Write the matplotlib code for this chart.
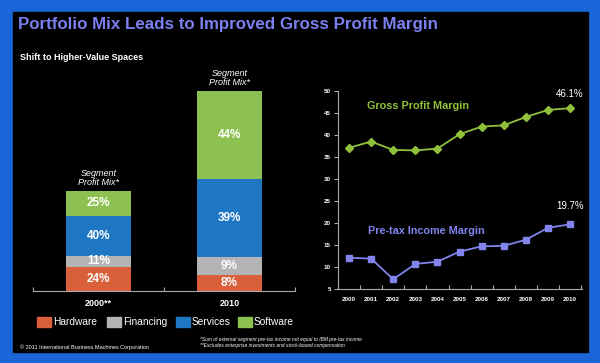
import matplotlib.pyplot as plt
from matplotlib.patches import Rectangle

# Data
periods = ['2000**', '2010']
profit_index = [100, 200]  # relative segment profit size
segments = ['Hardware', 'Financing', 'Services', 'Software']
mix_2000 = [24, 11, 40, 25]
mix_2010 = [8, 9, 39, 44]
seg_colors = ['#d9603b', '#b4b4b4', '#1f77c4', '#8cc152']

years = list(range(2000, 2011))
gross_margin = [37.1, 38.5, 36.6, 36.5, 36.9, 40.2, 41.9, 42.2, 44.1, 45.7, 46.1]
pretax_margin = [12.1, 11.9, 7.2, 10.7, 11.2, 13.5, 14.7, 14.8, 16.2, 18.9, 19.7]

W, H = 600, 363
plt.rcParams['font.family'] = ['Liberation Sans', 'DejaVu Sans']

fig = plt.figure(figsize=(6, 3.63), dpi=100)
fig.patch.set_facecolor('#1a66d9')


def box(x0, y0, x1, y1):
    # pixel box (top-left origin) -> figure fraction rect
    return [x0 / W, 1 - y1 / H, (x1 - x0) / W, (y1 - y0) / H]


# black panel
fig.patches.append(Rectangle((13 / W, 1 - 352 / H), 575 / W, 340 / H,
                             transform=fig.transFigure, color='black', zorder=-10))

fig.text(18 / W, 1 - 24 / H, 'Portfolio Mix Leads to Improved Gross Profit Margin',
         color='#7b80f0', fontsize=12.2, fontweight='bold', va='center')
fig.text(20 / W, 1 - 57 / H, 'Shift to Higher-Value Spaces', color='white',
         fontsize=6.5, fontweight='bold', va='center')

# stacked bars
ax = fig.add_axes(box(33, 60, 295, 291))
ax.set_facecolor('none')
ax.set_xlim(-0.5, 1.5)
ax.set_ylim(0, 231)
for i, mix in enumerate([mix_2000, mix_2010]):
    bottom = 0
    scale = profit_index[i] / 100
    for pct, col in zip(mix, seg_colors):
        h = pct * scale
        ax.bar(i, h, bottom=bottom, width=0.5, color=col, linewidth=0)
        ax.text(i, bottom + h / 2, f'{pct}%', color='white', fontsize=8.5,
                fontweight='bold', ha='center', va='center')
        bottom += h
    ax.text(i, bottom + 4, 'Segment\nProfit Mix*', color='white', fontsize=6.5,
            style='italic', ha='center', va='bottom', linespacing=1.0)
for s in ['top', 'right', 'left']:
    ax.spines[s].set_visible(False)
ax.spines['bottom'].set_color('#aaaaaa')
ax.set_yticks([])
ax.set_xticks([-0.5, 0.5, 1.5])
ax.set_xticklabels([])
ax.tick_params(axis='x', colors='#aaaaaa', length=3, direction='in')
ax.set_xticks([0, 1], minor=True)
ax.set_xticklabels(periods, minor=True)
ax.tick_params(axis='x', which='minor', length=0, labelcolor='white',
               labelsize=6.5, pad=6)
for lab in ax.get_xticklabels(minor=True):
    lab.set_fontweight('bold')

# legend
leg_x = [37, 107, 176, 238]
for x, name, col in zip(leg_x, segments, seg_colors):
    fig.patches.append(Rectangle((x / W, 1 - 327 / H), 14 / W, 10 / H,
                                 transform=fig.transFigure, color=col))
    fig.text((x + 16) / W, 1 - 322 / H, name, color='white', fontsize=7.3,
             va='center')

# line chart
ax2 = fig.add_axes(box(338, 91, 582, 289))
ax2.set_facecolor('none')
ax2.plot(years, gross_margin, color='#8fc23a', lw=1.3, marker='D', ms=4)
ax2.plot(years, pretax_margin, color='#8084ec', lw=1.3, marker='s', ms=4.5)
ax2.set_xlim(1999.5, 2010.54)
ax2.set_ylim(5, 50)
ax2.set_yticks(range(5, 51, 5))
ax2.set_xticks([y + 0.5 for y in range(1999, 2011)])
ax2.set_xticklabels([])
ax2.set_xticks(years, minor=True)
ax2.set_xticklabels([str(y) for y in years], minor=True)
ax2.tick_params(axis='x', which='major', colors='#aaaaaa', length=3, direction='in')
ax2.tick_params(axis='x', which='minor', length=0, labelcolor='white',
                labelsize=4.5, pad=6)
ax2.tick_params(axis='y', colors='#aaaaaa', labelcolor='white', length=3,
                labelsize=4.5, pad=2)
for lab in ax2.get_xticklabels(minor=True) + ax2.get_yticklabels():
    lab.set_fontweight('bold')
for s in ['top', 'right']:
    ax2.spines[s].set_visible(False)
for s in ['left', 'bottom']:
    ax2.spines[s].set_color('#aaaaaa')

ax2.text(2003.1, 46.6, 'Gross Profit Margin', color='#8fc23a', fontsize=7.8,
         fontweight='bold', ha='center', va='center')
ax2.text(2003.5, 18.2, 'Pre-tax Income Margin', color='#8084ec', fontsize=7.8,
         fontweight='bold', ha='center', va='center')
ax2.text(years[-1], gross_margin[-1] + 3.3, f'{gross_margin[-1]}%', color='white',
         fontsize=7, ha='center', va='center')
ax2.text(years[-1], pretax_margin[-1] + 4.2, f'{pretax_margin[-1]}%', color='white',
         fontsize=7, ha='center', va='center')

# footer
fig.text(20 / W, 1 - 347 / H, '\u00a9 2011 International Business Machines Corporation',
         color='white', fontsize=4, va='center')
fig.text(200 / W, 1 - 339 / H,
         '*Sum of external segment pre-tax income not equal to IBM pre-tax income',
         color='white', fontsize=3.5, style='italic', va='center')
fig.text(200 / W, 1 - 346 / H,
         '**Excludes enterprise investments and stock-based compensation',
         color='white', fontsize=3.5, style='italic', va='center')

fig.savefig('out.png', dpi=100, facecolor=fig.get_facecolor())
